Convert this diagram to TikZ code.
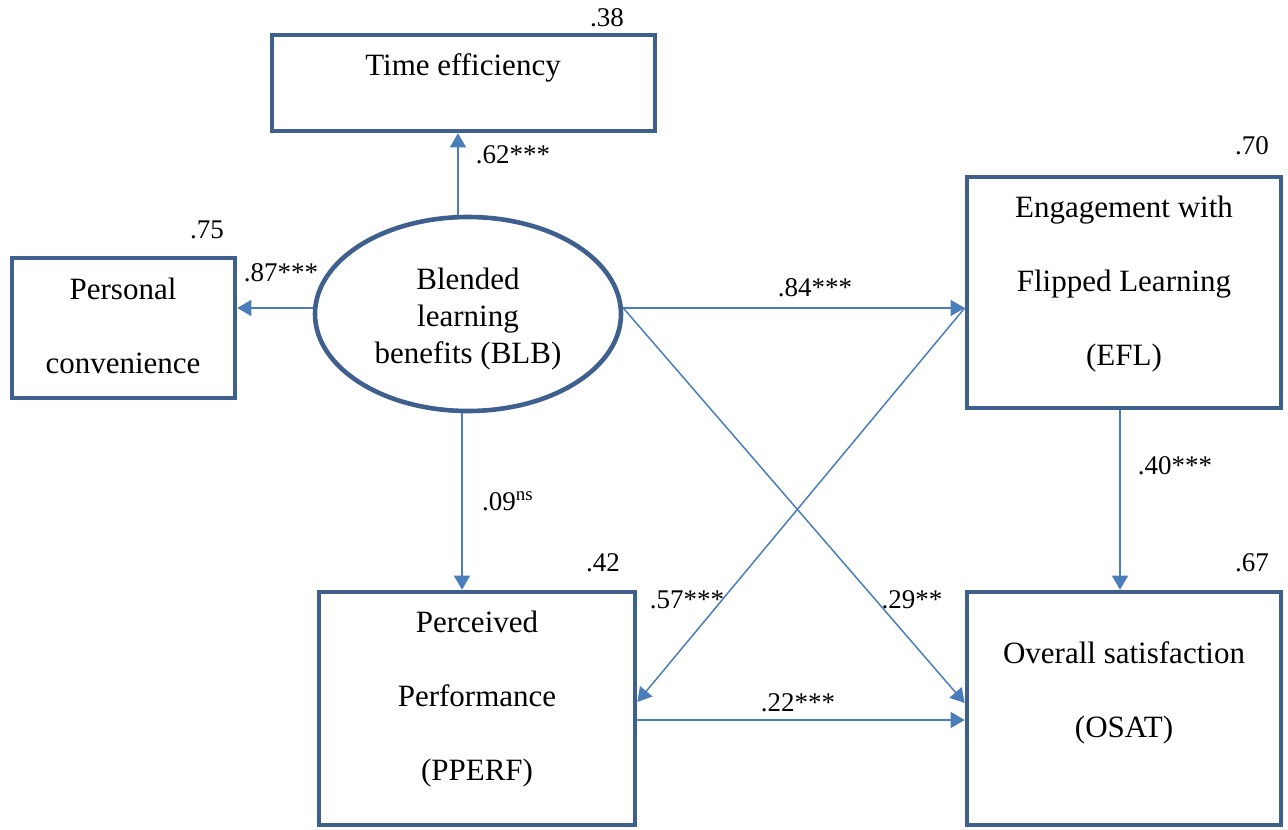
\documentclass[tikz,border=0pt]{standalone}
\usepackage{fontspec}
\setmainfont{Liberation Serif}
\usetikzlibrary{calc,shapes.geometric,arrows.meta}
\definecolor{boxblue}{HTML}{3F5F8E}
\definecolor{arrowblue}{HTML}{4A7EBB}
\tikzset{%
	box/.style = {rectangle,draw=boxblue,line width=2.3pt,inner sep=0},
	latent/.style = {ellipse,draw=boxblue,line width=2.3pt,inner sep=0,minimum width=153pt,minimum height=97pt},
	link/.style = {draw=arrowblue,line width=0.75pt,-{Triangle[length=7pt,width=8pt]}},
	txt/.style = {align=center,inner sep=0,font=\fontsize{15.5}{37}\selectfont},
	coef/.style = {inner sep=0,font=\fontsize{13.5}{16}\selectfont}%
}
\begin{document}
\begin{tikzpicture}[x=0.5pt,y=-0.5pt]
		\useasboundingbox (0,0) rectangle (1288,829);
		
		\node(te)[box,minimum width=191.5pt,minimum height=48pt]at(463.5,83){};
		\node(pc)[box,minimum width=111.5pt,minimum height=70pt]at(123.5,328){};
		\node(blb)[latent]at(468,314){};
		\node(efl)[box,minimum width=157pt,minimum height=115.5pt]at(1124,292.5){};
		\node(pp)[box,minimum width=158pt,minimum height=116.5pt]at(477,708.5){};
		\node(os)[box,minimum width=157pt,minimum height=116.5pt]at(1124,708.5){};
		
		\node[txt]at(463,68){Time efficiency};
		\node[txt]at(123,326){Personal\\convenience};
		\node[txt,font=\fontsize{15.5}{18.5}\selectfont]at(468,319){Blended\\learning\\benefits (BLB)};
		\node[txt]at(1124,284){Engagement with\\Flipped Learning\\(EFL)};
		\node[txt]at(477,699){Perceived\\Performance\\(PPERF)};
		\node[txt]at(1124,693){Overall satisfaction\\(OSAT)};
		
		\draw[link]([xshift=-5pt]blb.north)--([xshift=-5pt]blb.north|-te.south);
		\draw[link]([yshift=3pt]blb.west)--([yshift=3pt]blb.west-|pc.east);
		\draw[link]([yshift=3pt]blb.east)--([yshift=3pt]blb.east-|efl.west);
		\draw[link]([yshift=3pt]blb.east)--([yshift=2.75pt]os.west);
		\draw[link]([yshift=-7.75pt]efl.west)--([yshift=3.25pt]pp.east);
		\draw[link]([xshift=-3pt]blb.south)--([xshift=-3pt]blb.south|-pp.north);
		\draw[link]([xshift=-2pt]efl.south)--([xshift=-2pt]efl.south|-os.north);
		\draw[link]([yshift=-5.75pt]pp.east)--([yshift=-5.75pt]pp.east-|os.west);
		
		\node[coef]at(607,18){.38};
		\node[coef]at(513,155){.62***};
		\node[coef]at(207,230){.75};
		\node[coef]at(281,273){.87***};
		\node[coef]at(1252,146){.70};
		\node[coef]at(815,288){.84***};
		\node[coef]at(1175,466){.40***};
		\node[coef]at(508,501){.09\textsuperscript{ns}};
		\node[coef]at(603,563){.42};
		\node[coef]at(687,600){.57***};
		\node[coef]at(912,600){.29**};
		\node[coef]at(798,703){.22***};
		\node[coef]at(1252,563){.67};
\end{tikzpicture}
\end{document}
